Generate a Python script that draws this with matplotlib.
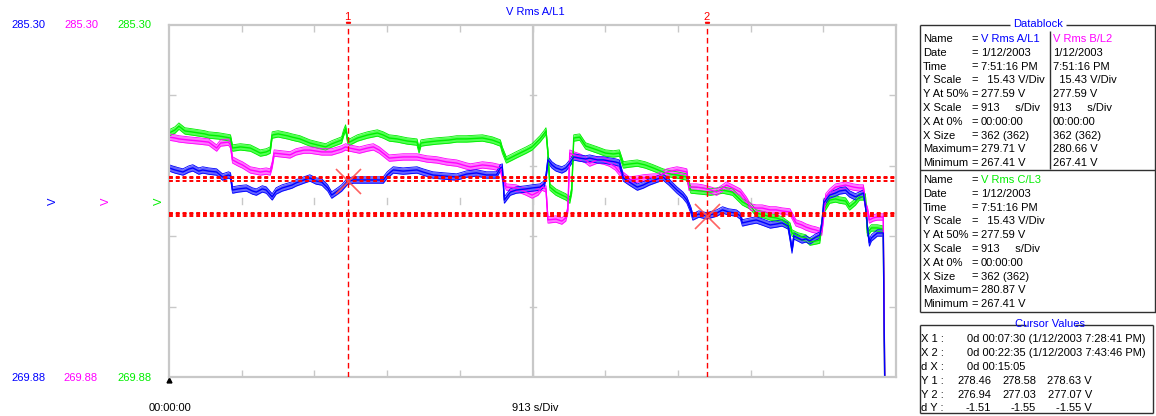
import numpy as np
import matplotlib
matplotlib.use("Agg")
import matplotlib.pyplot as plt

plt.rcParams['font.family'] = ['Liberation Sans', 'DejaVu Sans']

# ---------------- data ----------------
N_SAMPLES = 362
Y_TOP = 285.30
Y_BOTTOM = 269.88
SERIES_NAMES = ["V Rms A/L1", "V Rms B/L2", "V Rms C/L3"]

blue_x = [0, 3, 7, 10, 12, 15, 17, 20, 24, 27, 30, 31, 32, 35, 39, 42, 44, 47, 49, 52, 54, 57, 62, 64, 68, 71, 74, 77,
          80, 82, 85, 87, 90, 93, 100, 108, 110, 113, 118, 125, 128, 133, 138, 145, 150, 155, 160, 165, 167, 168, 169,
          172, 175, 180, 183, 187, 189, 190, 191, 193, 195, 198, 200, 202, 204, 207, 210, 212, 216, 219, 222, 225, 227,
          229, 232, 236, 239, 242, 246, 249, 252, 256, 259, 261, 263, 264, 267, 269, 271, 276, 279, 282, 286, 288, 289,
          293, 296, 299, 303, 306, 309, 312, 313, 314, 315, 317, 319, 321, 323, 326, 328, 329, 330, 333, 336, 338, 341,
          343, 346, 348, 350, 351, 352, 353, 354, 357, 360, 361]
blue_v = [279.04, 278.95, 278.86, 278.99, 279.04, 278.90, 278.95, 278.90, 278.86, 278.64, 278.73, 278.69, 278.07,
          278.12, 278.16, 278.03, 277.98, 278.12, 278.07, 277.77, 278.03, 278.16, 278.29, 278.38, 278.51, 278.60, 278.47,
          278.42, 278.16, 277.85, 278.03, 278.16, 278.46, 278.51, 278.51, 278.51, 278.73, 278.95, 278.90, 278.95, 278.86,
          278.73, 278.69, 278.64, 278.77, 278.82, 278.73, 278.73, 279.04, 279.08, 277.63, 277.98, 278.07, 278.12, 278.16,
          278.20, 278.33, 278.64, 279.39, 279.17, 279.04, 278.95, 279.04, 279.25, 279.52, 279.47, 279.43, 279.47, 279.39,
          279.39, 279.34, 279.30, 279.25, 278.60, 278.42, 278.20, 278.29, 278.42, 278.55, 278.64, 278.42, 278.07, 277.85,
          277.63, 277.20, 276.89, 277.02, 276.98, 276.94, 277.06, 277.20, 277.11, 277.06, 276.93, 276.63, 276.71, 276.76,
          276.67, 276.54, 276.58, 276.63, 276.50, 276.01, 275.44, 276.06, 275.97, 275.88, 275.93, 275.84, 276.01, 276.10,
          276.54, 277.50, 277.85, 277.94, 278.03, 278.07, 277.90, 277.77, 277.85, 277.94, 277.42, 276.45, 275.75, 275.97,
          276.19, 276.19, 267.41]

magenta_x = [0, 3, 5, 10, 15, 20, 24, 26, 30, 31, 32, 35, 37, 41, 44, 46, 49, 51, 52, 53, 57, 61, 64, 68, 71, 77, 82,
             87, 89, 91, 96, 100, 103, 106, 111, 118, 125, 130, 135, 140, 145, 150, 152, 158, 163, 167, 168, 170, 175,
             180, 183, 186, 188, 190, 191, 195, 198, 200, 201, 202, 204, 207, 210, 212, 216, 219, 222, 225, 227, 230,
             232, 236, 239, 244, 246, 249, 251, 256, 259, 261, 262, 266, 269, 273, 276, 279, 281, 284, 288, 291, 293,
             296, 299, 303, 306, 309, 313, 316, 319, 321, 324, 326, 329, 330, 331, 333, 336, 339, 341, 345, 348, 350,
             351, 352, 353, 355, 357, 360, 361]
magenta_v = [280.39, 280.35, 280.31, 280.26, 280.22, 280.17, 279.91, 280.13, 280.17, 280.04, 279.39, 279.25, 279.17,
             278.95, 278.90, 278.86, 278.90, 278.86, 279.17, 279.69, 279.65, 279.61, 279.74, 279.82, 279.82, 279.74,
             279.74, 279.87, 279.96, 279.91, 279.82, 279.91, 279.96, 279.82, 279.47, 279.52, 279.52, 279.43, 279.39,
             279.30, 279.25, 279.12, 279.08, 279.17, 279.12, 279.04, 278.64, 278.20, 278.16, 277.98, 277.85, 277.98,
             278.20, 278.12, 276.76, 276.80, 276.71, 276.85, 277.20, 279.69, 279.61, 279.52, 279.39, 279.25, 279.39,
             279.34, 279.25, 279.08, 278.86, 278.64, 278.51, 278.55, 278.60, 278.64, 278.64, 278.77, 278.86, 278.95,
             278.90, 278.86, 278.20, 278.20, 278.16, 278.07, 277.98, 278.16, 278.29, 278.16, 277.98, 277.63, 277.33,
             277.28, 277.28, 277.20, 277.20, 277.15, 277.11, 276.63, 276.54, 276.45, 276.36, 276.32, 276.23, 276.98,
             277.77, 277.98, 278.20, 278.25, 278.29, 278.20, 278.16, 278.16, 277.42, 277.20, 276.76, 276.85, 276.89,
             276.89, 267.41]

green_x = [0, 3, 5, 8, 12, 15, 18, 20, 25, 31, 32, 36, 41, 44, 46, 49, 51, 52, 55, 60, 62, 66, 71, 75, 79, 82, 87, 88,
           89, 90, 91, 95, 100, 105, 108, 111, 115, 120, 125, 126, 127, 130, 135, 141, 145, 150, 158, 163, 167, 168,
           170, 173, 175, 180, 183, 187, 189, 190, 191, 192, 195, 198, 200, 202, 203, 204, 207, 210, 213, 216, 220, 224,
           227, 229, 232, 236, 240, 244, 249, 253, 256, 261, 263, 268, 273, 279, 284, 289, 293, 296, 300, 303, 306, 309,
           313, 314, 317, 321, 323, 326, 328, 330, 333, 336, 338, 341, 343, 346, 348, 351, 352, 354, 357, 360, 361]
green_v = [280.57, 280.70, 280.87, 280.66, 280.61, 280.57, 280.53, 280.48, 280.44, 280.35, 279.91, 279.96, 279.91,
           279.78, 279.69, 279.74, 279.82, 280.48, 280.53, 280.44, 280.39, 280.31, 280.13, 280.04, 279.96, 280.09, 280.26,
           280.57, 280.79, 280.26, 280.17, 280.35, 280.48, 280.57, 280.48, 280.35, 280.31, 280.22, 280.17, 279.82, 280.13,
           280.17, 280.22, 280.26, 280.31, 280.31, 280.35, 280.26, 280.13, 279.82, 279.39, 279.52, 279.61, 279.82, 279.96,
           280.31, 280.53, 280.66, 279.69, 278.20, 277.98, 277.85, 277.77, 277.63, 278.07, 280.35, 280.39, 280.00, 279.91,
           279.82, 279.69, 279.65, 279.69, 279.17, 279.21, 279.25, 279.17, 279.04, 278.86, 278.77, 278.73, 278.64, 278.07,
           278.03, 277.98, 278.07, 277.98, 277.55, 277.37, 277.06, 276.98, 276.89, 276.85, 276.76, 276.50, 276.19, 276.06,
           275.97, 275.79, 275.84, 275.88, 277.20, 277.63, 277.68, 277.63, 277.59, 277.33, 277.55, 277.77, 277.77, 276.19,
           276.41, 276.41, 276.36, 267.41]

BAND = 0.14  # half-width of min/max envelope (V)

cursor_x = [90, 271]
cursor_y1 = [278.46, 278.58, 278.63]
cursor_y2 = [276.94, 277.03, 277.07]
cursor_dy = [-1.51, -1.55, -1.55]

# ---------------- figure ----------------
W, H = 1156, 416
fig = plt.figure(figsize=(W / 100, H / 100), dpi=100)
fig.patch.set_facecolor('white')

# overlay axes in pixel coordinates
ov = fig.add_axes([0, 0, 1, 1], zorder=0)
ov.set_xlim(0, W)
ov.set_ylim(H, 0)
ov.set_axis_off()

L, R, T, B = 169, 896, 25, 377
ax = fig.add_axes([L / W, 1 - B / H, (R - L) / W, (B - T) / H], zorder=1)
XMAX = (R - L) / 1.984
ax.set_xlim(0, XMAX)
ax.set_ylim(Y_BOTTOM, Y_TOP)
ax.set_facecolor('white')

grid_c = '#c8c8c8'
for s in ax.spines.values():
    s.set_color(grid_c)
    s.set_linewidth(1.6)
xdiv = np.linspace(0, XMAX, 11)
ydiv = np.linspace(Y_BOTTOM, Y_TOP, 6)
ax.set_xticks(xdiv[1:-1])
ax.set_yticks(ydiv[1:-1])
ax.tick_params(direction='in', length=5, width=1, color=grid_c, top=True, right=True,
               labelbottom=False, labelleft=False)
ax.axvline(XMAX / 2, color=grid_c, lw=1.6, zorder=0.5)
dx = 3 / 1.984
for yv in ydiv[1:-1]:
    ax.plot([XMAX / 2 - dx, XMAX / 2 + dx], [yv, yv], color=grid_c, lw=1, zorder=0.5)
ymid = (Y_TOP + Y_BOTTOM) / 2
dy = 3 * (Y_TOP - Y_BOTTOM) / (B - T)
for xv in xdiv[1:-1]:
    ax.plot([xv, xv], [ymid - dy, ymid + dy], color=grid_c, lw=1, zorder=0.5)

# series
series = [
    (green_x, green_v, '#00ee00', '#55ff55'),
    (magenta_x, magenta_v, '#ff00ff', '#ff77ff'),
    (blue_x, blue_v, '#0000ff', '#6666ff'),
]
for xs, vs, lc, fc in series:
    xs = np.array(xs)
    vs = np.array(vs)
    ax.fill_between(xs, vs - BAND, vs + BAND, color=fc, lw=0, zorder=2)
    ax.plot(xs, vs - BAND, color=lc, lw=0.6, zorder=2.1)
    ax.plot(xs, vs + BAND, color=lc, lw=0.6, zorder=2.1)
    ax.plot(xs, vs, color=lc, lw=1.0, zorder=2.2)

# cursors
for yv in cursor_y1 + cursor_y2:
    ax.axhline(yv, color='#ff0000', lw=1.4, ls=(0, (2, 1.5)), zorder=3)
for cx in cursor_x:
    ax.axvline(cx, color='#ff0000', lw=1, ls=(0, (4, 2.5)), zorder=3)
ax.plot([cursor_x[0]], [cursor_y1[0]], marker='x', ms=18, mew=1.2, color='#ff5050', zorder=4, alpha=0.9)
ax.plot([cursor_x[1]], [cursor_y2[0]], marker='x', ms=18, mew=1.2, color='#ff5050', zorder=4, alpha=0.9)

# ---------------- text in overlay ----------------
FS = 8
ov.text(535, 12, SERIES_NAMES[0], color='#0000ff', fontsize=FS, ha='center', va='center')
for cx, lab in zip(cursor_x, ['1', '2']):
    px = L + cx * 1.984
    ov.text(px, 17, lab, color='#ff0000', fontsize=FS, ha='center', va='center')
    ov.plot([px], [23.5], marker='v', ms=3, color='#ff0000')

cols = ['#0000ff', '#ff00ff', '#00ee00']
xs_lab = [28, 81, 134]
for xl, c in zip(xs_lab, cols):
    ov.text(xl, 25, f"{Y_TOP:.2f}", color=c, fontsize=FS, ha='center', va='center')
    ov.text(xl, 378, f"{Y_BOTTOM:.2f}", color=c, fontsize=FS, ha='center', va='center')
for xl, c in zip([53, 106, 159], cols):
    ov.text(xl, 201, "V", color=c, fontsize=FS, ha='center', va='center', rotation=90)

ov.plot([169], [380], marker='^', ms=3.5, color='black')
ov.text(170, 408, "00:00:00", color='black', fontsize=FS, ha='center', va='center')
ov.text(535, 408, "913 s/Div", color='black', fontsize=FS, ha='center', va='center')

# Datablock
box_c = '#303030'
def line(xs, ys):
    ov.plot(xs, ys, color=box_c, lw=1, solid_capstyle='butt')

line([920, 1010], [25, 25]); line([1066, 1156], [25, 25])
line([920, 920], [25, 312]); line([920, 1156], [312, 312])
line([1155, 1155], [25, 312])
line([920, 1156], [169.5, 169.5])
line([1050, 1050], [31, 169])
ov.text(1038, 24, "Datablock", color='#0000ff', fontsize=FS, ha='center', va='center')

labels = ["Name", "Date", "Time", "Y Scale", "Y At 50%", "X Scale", "X At 0%", "X Size", "Maximum", "Minimum"]
common = ["1/12/2003", "7:51:16 PM", "  15.43 V/Div", "277.59 V", "913     s/Div", "00:00:00", "362 (362)"]
maxs = ["279.71 V", "280.66 V", "280.87 V"]
mins = ["267.41 V", "267.41 V", "267.41 V"]

def block(y0, idx_a, idx_b=None):
    vals_a = common + [maxs[idx_a], mins[idx_a]]
    for i, lab in enumerate(labels):
        y = y0 + 13.8 * i
        ov.text(923, y, lab, fontsize=FS, ha='left', va='center', color='black')
        ov.text(971, y, "=", fontsize=FS, ha='left', va='center', color='black')
        if i == 0:
            ov.text(981, y, SERIES_NAMES[idx_a], fontsize=FS, ha='left', va='center', color=cols[idx_a])
        else:
            ov.text(981, y, vals_a[i - 1], fontsize=FS, ha='left', va='center', color='black')
        if idx_b is not None:
            vals_b = common + [maxs[idx_b], mins[idx_b]]
            if i == 0:
                ov.text(1053, y, SERIES_NAMES[idx_b], fontsize=FS, ha='left', va='center', color=cols[idx_b])
            else:
                ov.text(1053, y, vals_b[i - 1], fontsize=FS, ha='left', va='center', color='black')

block(39, 0, 1)
block(180, 2)

# Cursor values
line([920, 1026], [325, 325]); line([1075, 1153], [325, 325])
line([920, 920], [325, 413]); line([920, 1153], [413, 413]); line([1153, 1153], [325, 413])
ov.text(1050, 324, "Cursor Values", color='#0000ff', fontsize=FS, ha='center', va='center')

rows_y = [339, 353, 367, 381, 395, 408]
for ry, lab in zip(rows_y, ["X 1 :", "X 2 :", "d X :", "Y 1 :", "Y 2 :", "d Y :"]):
    ov.text(921, ry, lab, fontsize=FS, ha='left', va='center')
ov.text(967, rows_y[0], "0d 00:07:30 (1/12/2003 7:28:41 PM)", fontsize=FS, ha='left', va='center')
ov.text(967, rows_y[1], "0d 00:22:35 (1/12/2003 7:43:46 PM)", fontsize=FS, ha='left', va='center')
ov.text(967, rows_y[2], "0d 00:15:05", fontsize=FS, ha='left', va='center')
col_r = [991, 1036, 1092]
for j in range(3):
    suf = " V" if j == 2 else ""
    ov.text(col_r[j], rows_y[3], f"{cursor_y1[j]:.2f}{suf}", fontsize=FS, ha='right', va='center')
    ov.text(col_r[j], rows_y[4], f"{cursor_y2[j]:.2f}{suf}", fontsize=FS, ha='right', va='center')
    ov.text(col_r[j], rows_y[5], f"{cursor_dy[j]:.2f}{suf}", fontsize=FS, ha='right', va='center')

fig.savefig("out.png", dpi=100)
